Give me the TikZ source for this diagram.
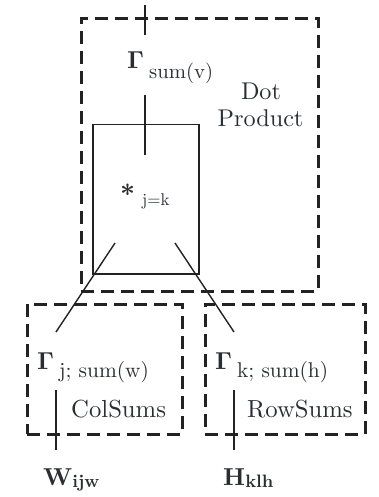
\documentclass[tikz,border=0pt]{standalone}
\usepackage{graphicx}
\definecolor{linec}{HTML}{222222}
\definecolor{textc}{HTML}{2A2E33}
\newcommand\sbx[2]{\scalebox{#1}{#2}}
\newcommand\bGam{$\mathbf{\Gamma}$}
\begin{document}
\begin{tikzpicture}[x=1pt,y=-1pt,
  dbox/.style={draw=linec, line width=2.6pt, dash pattern=on 13pt off 7pt, rectangle, inner sep=0pt, anchor=north west},
  sbox/.style={draw=linec, line width=1.5pt, rectangle, inner sep=0pt, anchor=north west},
  wire/.style={draw=linec, line width=1.4pt},
  lbl/.style={text=textc, inner sep=0pt, anchor=base west, font=\fontsize{10}{12}\selectfont},
  clbl/.style={text=textc, inner sep=0pt, anchor=base, font=\fontsize{10}{12}\selectfont},
]
\useasboundingbox (0,0) rectangle (378,497);
% boxes
\node[dbox, minimum width=237pt, minimum height=273pt] (dot) at (80,17) {};
\node[sbox, minimum width=106pt, minimum height=149pt] (mult) at (92,124) {};
\node[dbox, minimum width=155pt, minimum height=130pt] (col) at (26,303) {};
\node[dbox, minimum width=160pt, minimum height=130pt] (row) at (204,303) {};
% labels
\node[lbl] (gv) at (127,69) {\sbx{2.45}{\bGam}\hspace{5pt}\raisebox{-10pt}{\sbx{2.07}{sum(v)}}};
\node[lbl] (ast) at (120,203) {\sbx{2.6}{\bfseries *}};
\node[lbl] (astsub) at (142,205) {\sbx{1.7}{j=k}};
\node[lbl] (gw) at (37,369) {\sbx{2.45}{\bGam}\hspace{5pt}\raisebox{-8pt}{\sbx{2.14}{j; sum(w)}}};
\node[lbl] (gh) at (215,369) {\sbx{2.45}{\bGam}\hspace{5pt}\raisebox{-8pt}{\sbx{2.14}{k; sum(h)}}};
\node[lbl] (cs) at (71,417) {\sbx{2.47}{ColSums}};
\node[lbl] (rs) at (247,417) {\sbx{2.47}{RowSums}};
\node[clbl] (dp1) at (261,100) {\sbx{2.42}{Dot}};
\node[clbl] (dp2) at (260.5,127) {\sbx{2.42}{Product}};
\node[lbl] (w) at (43,485) {\sbx{2.45}{\bfseries W}\raisebox{-2pt}{\sbx{1.8}{\bfseries ijw}}};
\node[lbl] (h) at (223,485) {\sbx{2.45}{\bfseries H}\raisebox{-2pt}{\sbx{1.8}{\bfseries klh}}};
% wire end points
\coordinate (t0) at (145,5);   \coordinate (t1) at (145,35);
\coordinate (m0) at (145,95);  \coordinate (m1) at (145,155);
\coordinate (l0) at (115,243); \coordinate (l1) at (56,332);
\coordinate (r0) at (175,243); \coordinate (r1) at (234,332);
\coordinate (bl0) at (56,390); \coordinate (bl1) at (56,450);
\coordinate (br0) at (234,390); \coordinate (br1) at (234,450);
\draw[wire] (t0) -- (t1);
\draw[wire] (m0) -- (m1);
\draw[wire] (l0) -- (l1);
\draw[wire] (r0) -- (r1);
\draw[wire] (bl0) -- (bl1);
\draw[wire] (br0) -- (br1);
\end{tikzpicture}
\end{document}
